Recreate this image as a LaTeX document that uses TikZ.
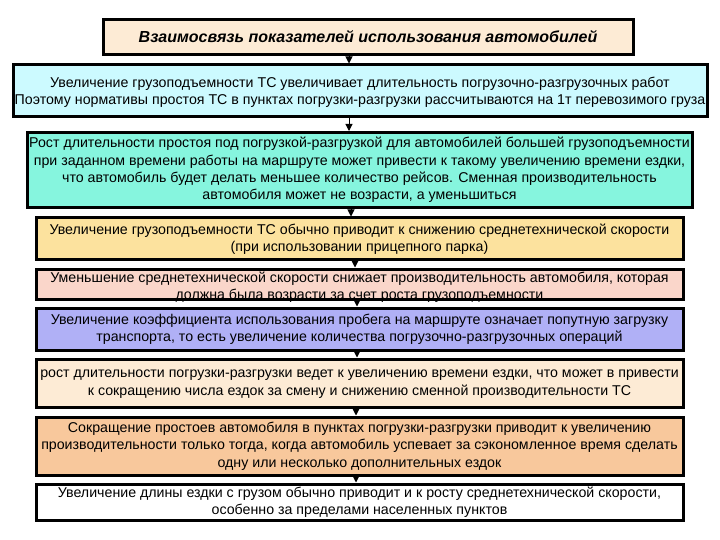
\documentclass[tikz,border=0pt]{standalone}
\usepackage{fontspec}
\setmainfont{Liberation Sans}
\usetikzlibrary{arrows.meta}
\definecolor{cPeach}{HTML}{FDEBD5}
\definecolor{cCyan}{HTML}{CCFAFF}
\definecolor{cAqua}{HTML}{86F5DE}
\definecolor{cGold}{HTML}{FCE29E}
\definecolor{cPink}{HTML}{FAD6CA}
\definecolor{cLav}{HTML}{B0B0F6}
\definecolor{cOrange}{HTML}{F8C89C}
\tikzset{
  box/.style={draw=black, line width=3pt, inner sep=0pt},
  txt/.style={align=center, inner sep=0pt, font=\fontsize{14.2}{17.4}\selectfont},
  arr/.style={line width=1pt, -{Triangle[width=7pt,length=7pt]}}
}
\begin{document}
\begin{tikzpicture}[x=1pt,y=-1pt]
\useasboundingbox (0,0) rectangle (720,540);
% boxes
\node[box, fill=cPeach, minimum width=530pt, minimum height=35pt] (b0) at (368,37) {};
\node[box, fill=cCyan, minimum width=694pt, minimum height=52pt] (b1) at (360,91) {};
\node[box, fill=cAqua, minimum width=665pt, minimum height=75pt] (b2) at (359.5,170) {};
\node[box, fill=cGold, minimum width=647pt, minimum height=41pt] (b3) at (359.5,238.5) {};
\node[box, fill=cPink, minimum width=647pt, minimum height=30pt] (b4) at (359.5,284) {};
\node[box, fill=cLav, minimum width=647pt, minimum height=42pt] (b5) at (359.5,329) {};
\node[box, fill=cPeach, minimum width=647pt, minimum height=48pt] (b6) at (359.5,383) {};
\node[box, fill=cOrange, minimum width=647pt, minimum height=58pt] (b7) at (359.5,446) {};
\node[box, fill=white, minimum width=647pt, minimum height=36pt] (b8) at (359.5,502) {};
% texts
\node[txt, font=\fontsize{16}{18}\selectfont\bfseries\itshape] (t0) at (368,37) {Взаимосвязь показателей использования автомобилей};
\node[txt] (t1) at (360,92) {Увеличение грузоподъемности ТС увеличивает длительность погрузочно-разгрузочных работ\\Поэтому нормативы простоя ТС в пунктах погрузки-разгрузки рассчитываются на 1т перевозимого груза};
\node[txt] (t2) at (359.5,170) {Рост длительности простоя под погрузкой-разгрузкой для автомобилей большей грузоподъемности\\при заданном времени работы на маршруте может привести к такому увеличению времени ездки,\\что автомобиль будет делать меньшее количество рейсов. Сменная производительность\\автомобиля может не возрасти, а уменьшиться};
\node[txt] (t3) at (359.5,239) {Увеличение грузоподъемности ТС обычно приводит к снижению среднетехнической скорости\\(при использовании прицепного парка)};
\node[txt] (t4) at (359.5,287) {Уменьшение среднетехнической скорости снижает производительность автомобиля, которая\\должна была возрасти за счет роста грузоподъемности};
\node[txt] (t5) at (359.5,329) {Увеличение коэффициента использования пробега на маршруте означает попутную загрузку\\транспорта, то есть увеличение количества погрузочно-разгрузочных операций};
\node[txt] (t6) at (359.5,384) {рост длительности погрузки-разгрузки ведет к увеличению времени ездки, что может в привести\\к сокращению числа ездок за смену и снижению сменной производительности ТС};
\node[txt] (t7) at (359.5,446) {Сокращение простоев автомобиля в пунктах погрузки-разгрузки приводит к увеличению\\производительности только тогда, когда автомобиль успевает за сэкономленное время сделать\\одну или несколько дополнительных ездок};
\node[txt] (t8) at (359.5,502) {Увеличение длины ездки с грузом обычно приводит и к росту среднетехнической скорости,\\особенно за пределами населенных пунктов};
% arrows
\draw[arr] (b0.south -| 349,0) -- (b1.north -| 349,0);
\draw[arr] (b1.south -| 349,0) -- (b2.north -| 349,0);
\draw[arr] (b2.south -| 351,0) -- (b3.north -| 351,0);
\draw[arr] (b3.south -| 355,0) -- (b4.north -| 355,0);
\draw[arr] (b4.south -| 357,0) -- (b5.north -| 357,0);
\draw[arr] (b5.south -| 357,0) -- (b6.north -| 357,0);
\draw[arr] (b6.south -| 356,0) -- (b7.north -| 356,0);
\draw[arr] (b7.south -| 356,0) -- (b8.north -| 356,0);
\end{tikzpicture}
\end{document}
